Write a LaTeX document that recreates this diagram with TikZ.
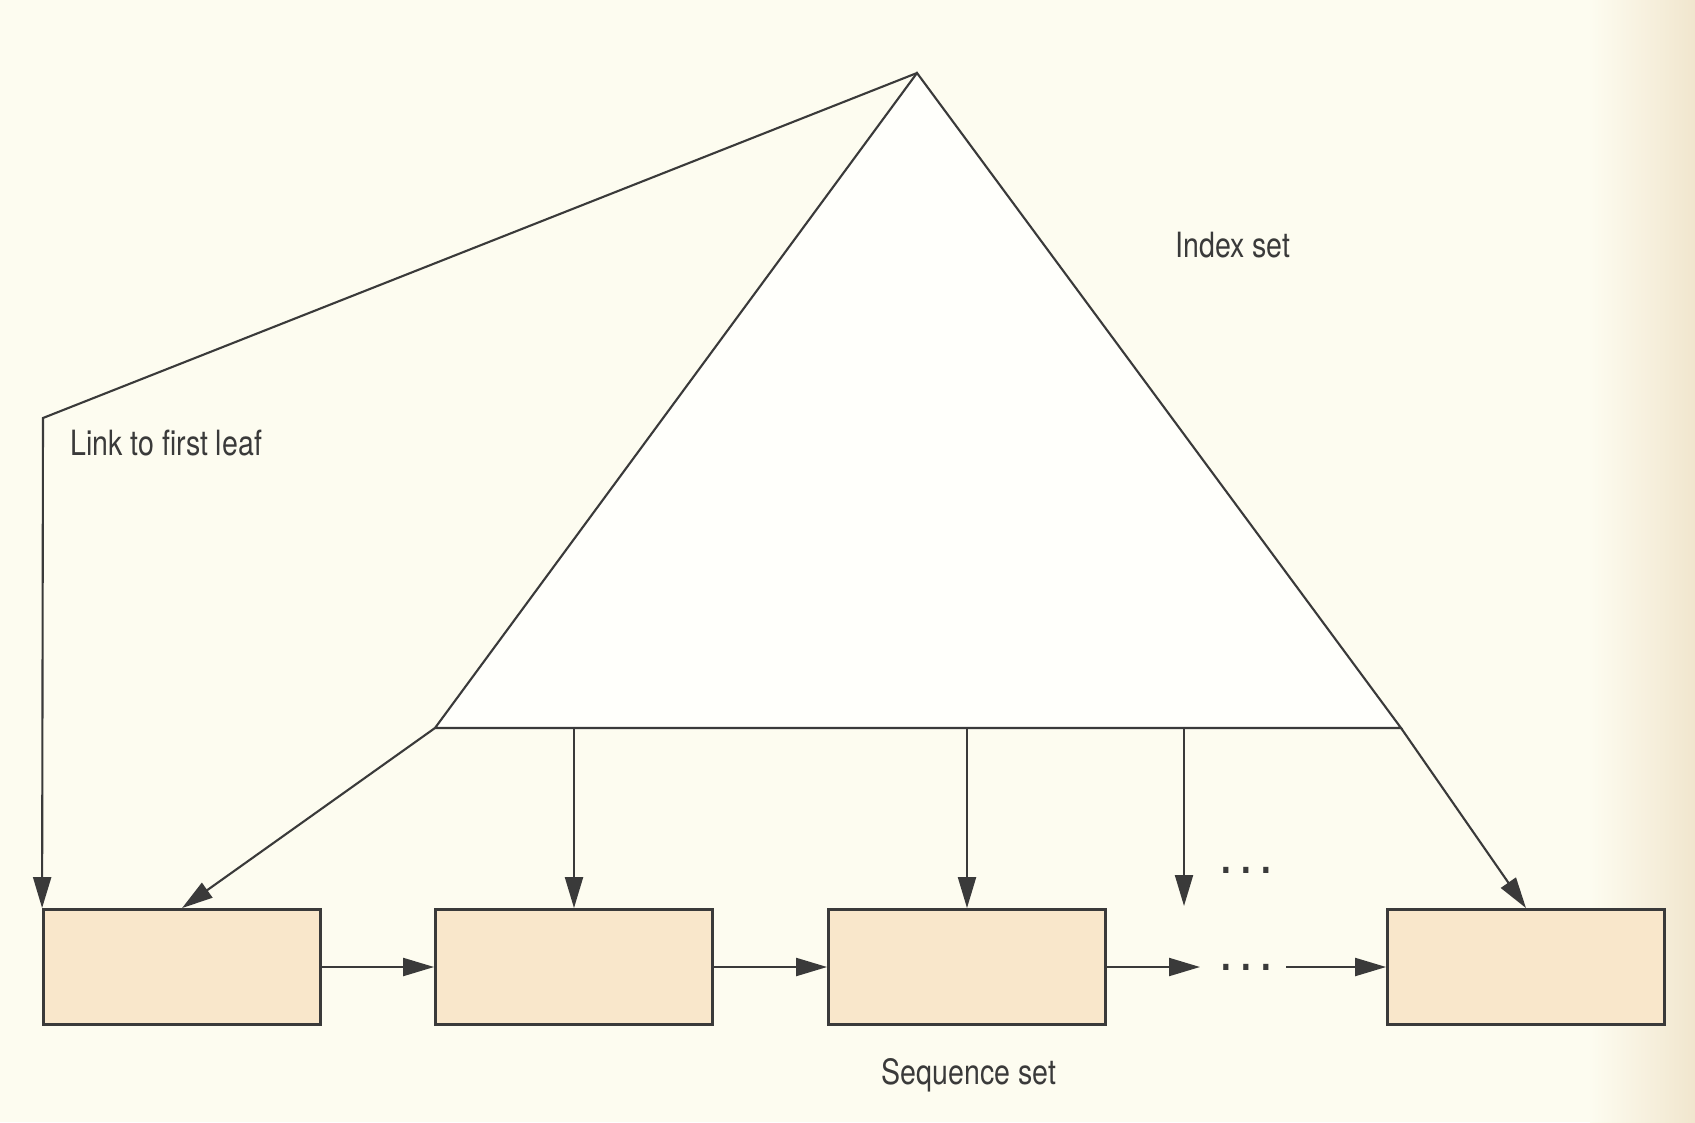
\documentclass[tikz,border=0pt]{standalone}
\usepackage{fontspec}
\setmainfont{TeX Gyre Heros}[FakeStretch=0.82]
\usetikzlibrary{arrows.meta,positioning}
\definecolor{paper}{RGB}{253,252,240}
\definecolor{paperedge}{RGB}{241,230,206}
\definecolor{leaffill}{RGB}{249,231,203}
\definecolor{triwhite}{RGB}{255,255,251}
\definecolor{inkgray}{RGB}{58,58,58}
\tikzset{
  leaf/.style={draw=inkgray, line width=0.8pt, fill=leaffill,
    minimum width=2.77cm, minimum height=1.15cm, inner sep=0pt},
  edge/.style={draw=inkgray, line width=0.6pt},
  link/.style={edge, -{Triangle[length=3.1mm,width=1.8mm]}},
  lbl/.style={text=inkgray, font=\fontsize{9.9}{12}\selectfont},
  gap/.style={text=inkgray, inner sep=0pt, font=\fontsize{12}{14}\selectfont\bfseries}
}
\begin{document}
\begin{tikzpicture}
  \useasboundingbox (0,0) rectangle (16.95,11.22);
  \fill[paper] (0,0) rectangle (16.95,11.22);
  \shade[left color=paper, right color=paperedge] (15.9,0) rectangle (16.95,11.22);
  % index set
  \coordinate (apex)   at (9.17,10.49);
  \coordinate (baseL)  at (4.35,3.94);
  \coordinate (baseR)  at (14.01,3.94);
  \coordinate (corner) at (0.43,7.04);
  \filldraw[edge, fill=triwhite] (apex) -- (baseL) -- (baseR) -- cycle;
  % sequence set
  \node[leaf] (leafA) at (1.82,1.55) {};
  \node[leaf, right of=leafA, node distance=3.92cm] (leafB) {};
  \node[leaf, right of=leafB, node distance=3.93cm] (leafC) {};
  \node[leaf, right of=leafC, node distance=5.59cm] (leafD) {};
  \coordinate (gapTop) at (11.84,3.94);
  \coordinate (gapEnd) at (11.84,2.16);
  \coordinate (gapL) at (12.00,1.55);
  \coordinate (gapR) at (12.86,1.55);
  \node[gap] (dotsLow) at (12.46,1.55) {.\hspace{3pt}.\hspace{3pt}.};
  \node[gap] (dotsHigh) at (12.46,2.52) {.\hspace{3pt}.\hspace{3pt}.};
  % labels
  \node[lbl] (indexLbl) at (12.33,8.77) {Index set};
  \node[lbl, anchor=west] (linkLbl) at (0.58,6.79) {Link to first leaf};
  \node[lbl] (seqLbl) at (9.69,0.47) {Sequence set};
  % links
  \draw[link] (apex) -- (corner) -- (leafA.north west);
  \draw[link] (baseL) -- (leafA.north);
  \draw[link] (baseR) -- (leafD.north);
  \draw[link] (leafB.north |- baseL) -- (leafB.north);
  \draw[link] (leafC.north |- baseL) -- (leafC.north);
  \draw[link] (gapTop) -- (gapEnd);
  \draw[link] (leafA.east) -- (leafB.west);
  \draw[link] (leafB.east) -- (leafC.west);
  \draw[link] (leafC.east) -- (gapL);
  \draw[link] (gapR) -- (leafD.west);
\end{tikzpicture}
\end{document}
